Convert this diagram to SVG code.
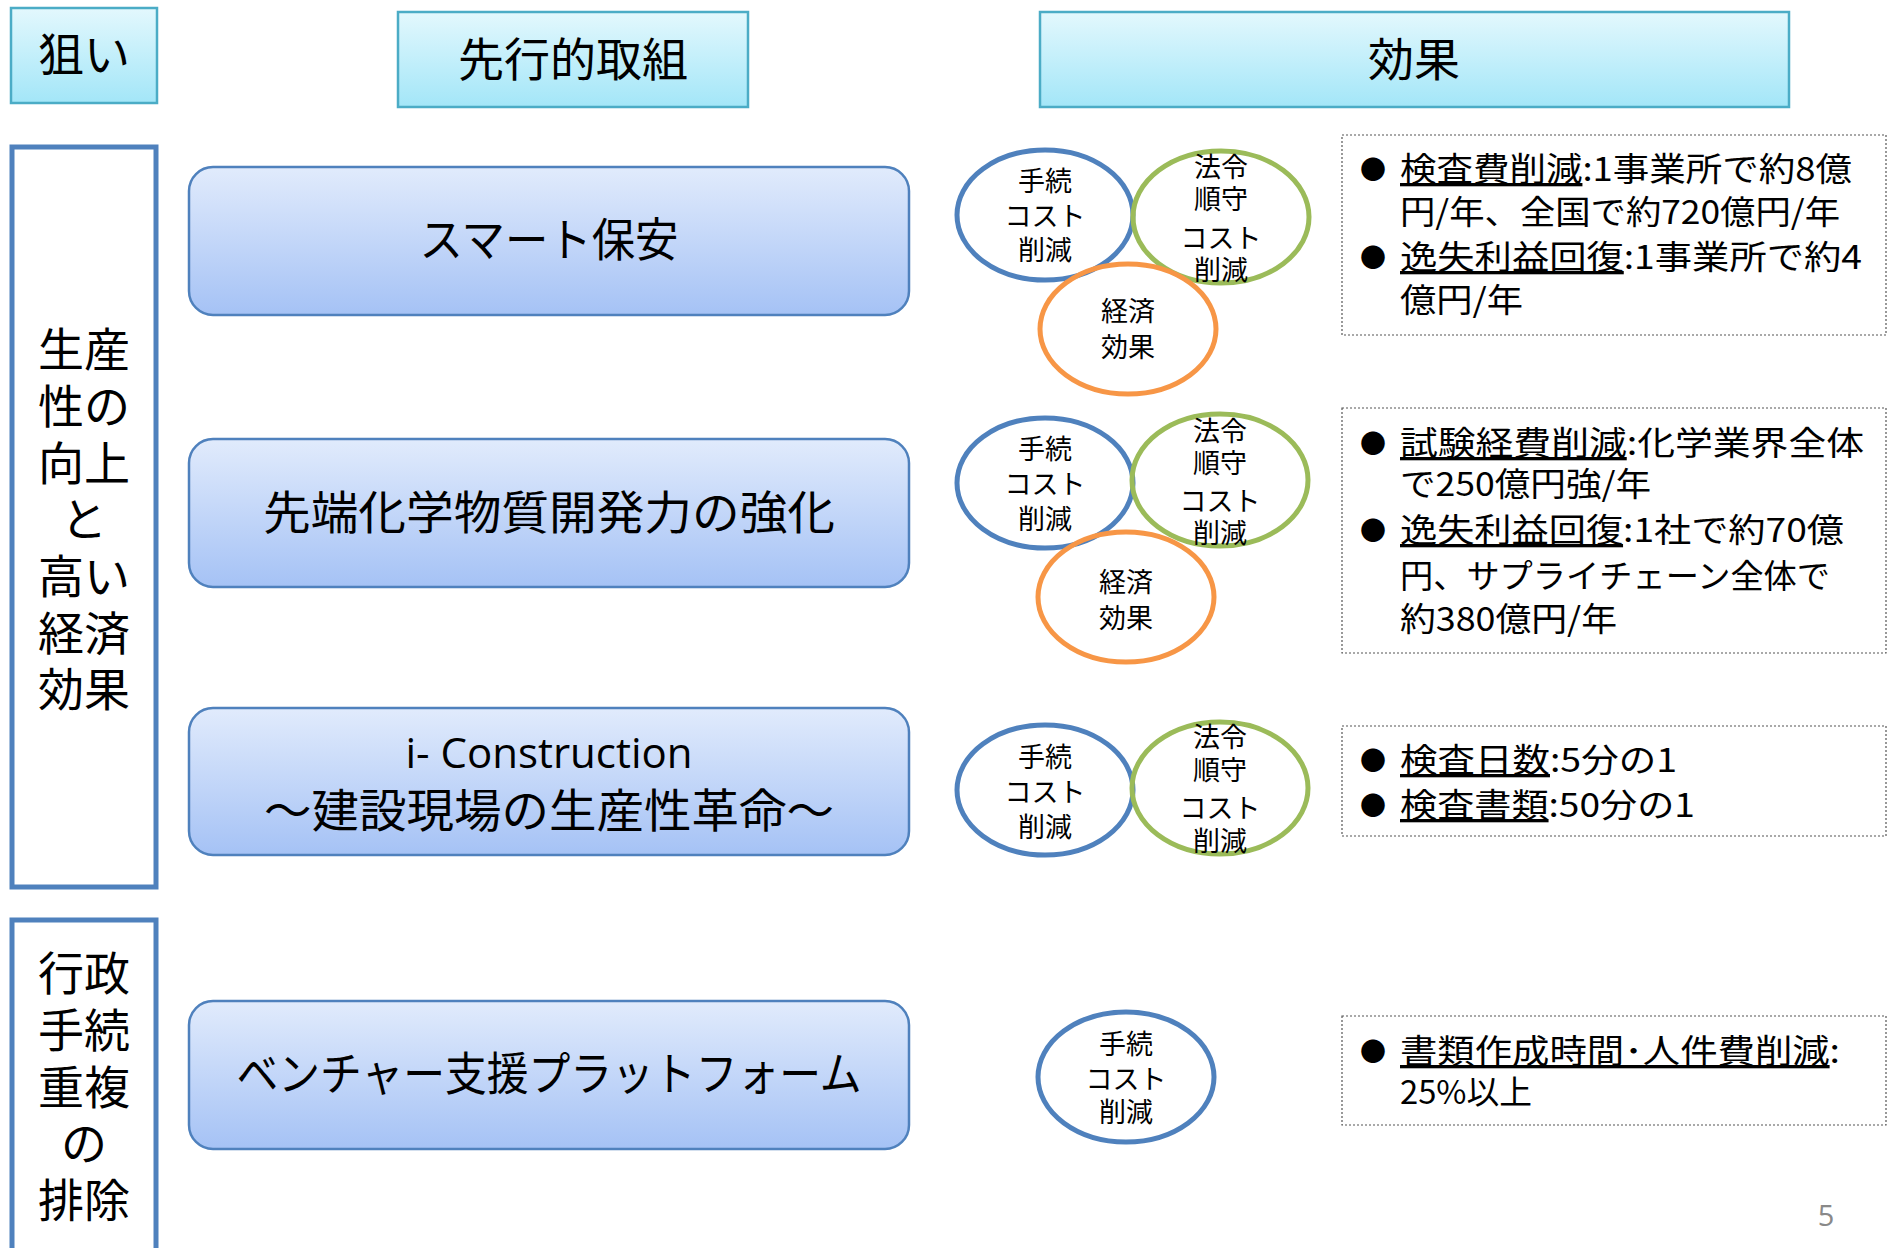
<svg xmlns="http://www.w3.org/2000/svg" width="1892" height="1248" viewBox="0 0 1892 1248">
<defs>
<linearGradient id="gh" x1="0" y1="0" x2="0" y2="1"><stop offset="0" stop-color="#e3f8fd"/><stop offset="1" stop-color="#a3e6f8"/></linearGradient>
<linearGradient id="gn" x1="0" y1="0" x2="0" y2="1"><stop offset="0" stop-color="#e1ebfc"/><stop offset="1" stop-color="#a5c2f5"/></linearGradient>
<style>
text{font-family:"Noto Sans CJK JP","Noto Sans",sans-serif;fill:#000}
.hdr{fill:url(#gh);stroke:#4bacc6;stroke-width:2.5}
.node{fill:url(#gn);stroke:#4f81bd;stroke-width:2.5}
.aim{fill:#fff;stroke:#4f81bd;stroke-width:5}
.h{font-size:46px;text-anchor:middle}
.n{font-size:46px;text-anchor:middle}
.l{font-size:46px;text-anchor:middle}
.c{font-size:27px;text-anchor:middle}
.cb{fill:none;stroke:#4f81bd;stroke-width:5}
.cg{fill:none;stroke:#9bbb59;stroke-width:5}
.co{fill:none;stroke:#f79646;stroke-width:5}
.db{fill:#fff;stroke:#555;stroke-width:1.2;stroke-dasharray:2 2}
.b{font-size:33px}
.dot{font-size:26px;text-anchor:middle}
.u{text-decoration:underline}
</style>
</defs>
<rect width="1892" height="1248" fill="#fff"/>

<g id="header-aim"><rect class="hdr" x="11" y="8" width="146" height="95"/><text class="h" x="84" y="71">狙い</text></g>
<g id="header-initiative"><rect class="hdr" x="398" y="12" width="350" height="95"/><text class="h" x="573" y="76">先行的取組</text></g>
<g id="header-effect"><rect class="hdr" x="1040" y="12" width="749" height="95"/><text class="h" x="1414" y="76">効果</text></g>

<g id="aim-productivity"><rect class="aim" x="12" y="147" width="144" height="740"/>
<text class="l"><tspan x="84" y="366">生産</tspan><tspan x="84" y="423">性の</tspan><tspan x="84" y="480">向上</tspan><tspan x="84" y="536">と</tspan><tspan x="84" y="593">高い</tspan><tspan x="84" y="650">経済</tspan><tspan x="84" y="706">効果</tspan></text></g>
<g id="aim-admin"><rect class="aim" x="12" y="920" width="144" height="340"/>
<text class="l"><tspan x="84" y="990">行政</tspan><tspan x="84" y="1047">手続</tspan><tspan x="84" y="1104">重複</tspan><tspan x="84" y="1160">の</tspan><tspan x="84" y="1217">排除</tspan></text></g>

<g id="node-smart"><rect class="node" x="189" y="167" width="720" height="148" rx="24"/><text class="n" x="549" y="256" textLength="259" lengthAdjust="spacingAndGlyphs">スマート保安</text></g>
<g id="node-chem"><rect class="node" x="189" y="439" width="720" height="148" rx="24"/><text class="n" x="549" y="529" textLength="572" lengthAdjust="spacingAndGlyphs">先端化学物質開発力の強化</text></g>
<g id="node-icon"><rect class="node" x="189" y="708" width="720" height="147" rx="24"/><text class="n" x="549" y="768" style="font-family:'Open Sans','Noto Sans',sans-serif;font-size:42px">i- Construction</text><text class="n" x="549" y="827" textLength="570" lengthAdjust="spacingAndGlyphs">～建設現場の生産性革命～</text></g>
<g id="node-venture"><rect class="node" x="189" y="1001" width="720" height="148" rx="24"/><text class="n" x="549" y="1090" textLength="625" lengthAdjust="spacingAndGlyphs">ベンチャー支援プラットフォーム</text></g>

<g id="effects-smart">
<ellipse class="cb" cx="1045" cy="215" rx="88" ry="65"/><ellipse class="cg" cx="1221" cy="217" rx="88" ry="66"/><ellipse class="co" cx="1128" cy="329" rx="88" ry="65"/>
<text class="c"><tspan x="1045" y="191">手続</tspan><tspan x="1045" y="226">コスト</tspan><tspan x="1045" y="260">削減</tspan></text>
<text class="c"><tspan x="1221" y="177">法令</tspan><tspan x="1221" y="209">順守</tspan><tspan x="1221" y="248">コスト</tspan><tspan x="1221" y="280">削減</tspan></text>
<text class="c"><tspan x="1128" y="321">経済</tspan><tspan x="1128" y="357">効果</tspan></text>
</g>
<g id="effects-chem">
<ellipse class="cb" cx="1045" cy="483" rx="88" ry="65"/><ellipse class="cg" cx="1220" cy="480" rx="88" ry="66"/><ellipse class="co" cx="1126" cy="597" rx="88" ry="65"/>
<text class="c"><tspan x="1045" y="459">手続</tspan><tspan x="1045" y="494">コスト</tspan><tspan x="1045" y="529">削減</tspan></text>
<text class="c"><tspan x="1220" y="441">法令</tspan><tspan x="1220" y="473">順守</tspan><tspan x="1220" y="511">コスト</tspan><tspan x="1220" y="543">削減</tspan></text>
<text class="c"><tspan x="1126" y="592">経済</tspan><tspan x="1126" y="628">効果</tspan></text>
</g>
<g id="effects-icon">
<ellipse class="cb" cx="1045" cy="790" rx="88" ry="65"/><ellipse class="cg" cx="1220" cy="788" rx="88" ry="66"/>
<text class="c"><tspan x="1045" y="767">手続</tspan><tspan x="1045" y="802">コスト</tspan><tspan x="1045" y="837">削減</tspan></text>
<text class="c"><tspan x="1220" y="747">法令</tspan><tspan x="1220" y="780">順守</tspan><tspan x="1220" y="818">コスト</tspan><tspan x="1220" y="851">削減</tspan></text>
</g>
<g id="effects-venture">
<ellipse class="cb" cx="1126" cy="1077" rx="88" ry="65"/>
<text class="c"><tspan x="1126" y="1054">手続</tspan><tspan x="1126" y="1089">コスト</tspan><tspan x="1126" y="1122">削減</tspan></text>
</g>

<g id="detail-smart"><rect class="db" x="1342" y="135" width="544" height="200"/>
<text class="dot"><tspan x="1373" y="179">●</tspan><tspan x="1373" y="267">●</tspan></text>
<text class="b"><tspan x="1400" y="181" textLength="452" lengthAdjust="spacingAndGlyphs"><tspan class="u">検査費削減</tspan>:1事業所で約8億</tspan><tspan x="1400" y="224" textLength="440" lengthAdjust="spacingAndGlyphs">円/年、全国で約720億円/年</tspan><tspan x="1400" y="269" textLength="462" lengthAdjust="spacingAndGlyphs"><tspan class="u">逸失利益回復</tspan>:1事業所で約4</tspan><tspan x="1400" y="312" textLength="123" lengthAdjust="spacingAndGlyphs">億円/年</tspan></text>
</g>
<g id="detail-chem"><rect class="db" x="1342" y="408" width="544" height="245"/>
<text class="dot"><tspan x="1373" y="453">●</tspan><tspan x="1373" y="540">●</tspan></text>
<text class="b"><tspan x="1400" y="455" textLength="464" lengthAdjust="spacingAndGlyphs"><tspan class="u">試験経費削減</tspan>:化学業界全体</tspan><tspan x="1400" y="496" textLength="251" lengthAdjust="spacingAndGlyphs">で250億円強/年</tspan><tspan x="1400" y="542" textLength="444" lengthAdjust="spacingAndGlyphs"><tspan class="u">逸失利益回復</tspan>:1社で約70億</tspan><tspan x="1400" y="588" textLength="430" lengthAdjust="spacingAndGlyphs">円、サプライチェーン全体で</tspan><tspan x="1400" y="631" textLength="217" lengthAdjust="spacingAndGlyphs">約380億円/年</tspan></text>
</g>
<g id="detail-icon"><rect class="db" x="1342" y="726" width="544" height="110"/>
<text class="dot"><tspan x="1373" y="770">●</tspan><tspan x="1373" y="815">●</tspan></text>
<text class="b"><tspan x="1400" y="772" textLength="277" lengthAdjust="spacingAndGlyphs"><tspan class="u">検査日数</tspan>:5分の1</tspan><tspan x="1400" y="817" textLength="295" lengthAdjust="spacingAndGlyphs"><tspan class="u">検査書類</tspan>:50分の1</tspan></text>
</g>
<g id="detail-venture"><rect class="db" x="1342" y="1016" width="544" height="109"/>
<text class="dot" x="1373" y="1061">●</text>
<text class="b"><tspan x="1400" y="1063" textLength="440" lengthAdjust="spacingAndGlyphs"><tspan class="u">書類作成時間･人件費削減</tspan>:</tspan><tspan x="1400" y="1104" textLength="132" lengthAdjust="spacingAndGlyphs">25%以上</tspan></text>
</g>

<g id="connectors"></g>
<text x="1826" y="1226" style="font-size:29px;fill:#898989;text-anchor:middle;font-family:'Open Sans',sans-serif">5</text>
</svg>
